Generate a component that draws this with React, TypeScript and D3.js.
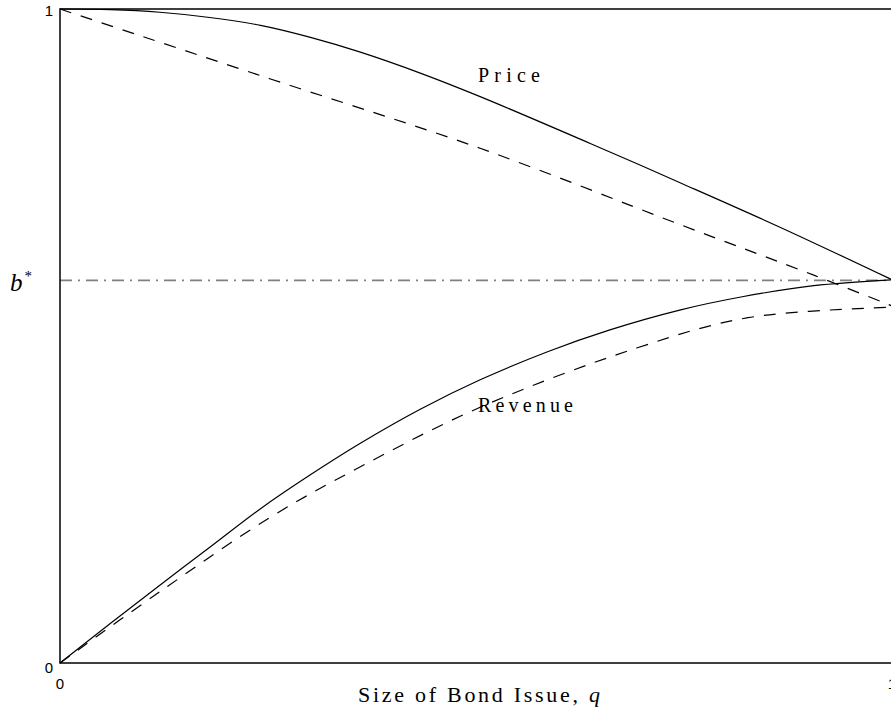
import { useMemo } from 'react';
import * as d3 from 'd3';

// sampled curves, x = size of bond issue (0..1), y = value (0..1)
const priceX = [0, 0.06, 0.12, 0.18, 0.241, 0.3, 0.361, 0.433, 0.505, 0.638, 0.746, 0.866, 1];
const priceSolid = [1, 0.999, 0.995, 0.987, 0.975, 0.957, 0.934, 0.902, 0.866, 0.794, 0.734, 0.666, 0.586];

const priceDashX = [0, 0.253, 0.505, 0.746, 0.906, 1];
const priceDashed = [1, 0.893, 0.787, 0.67, 0.593, 0.546];

const revX = [0, 0.06, 0.12, 0.18, 0.241, 0.3, 0.361, 0.433, 0.505, 0.586, 0.66, 0.746, 0.82, 0.906, 1];
const revenueSolid = [0, 0.06, 0.119, 0.177, 0.236, 0.287, 0.336, 0.388, 0.433, 0.476, 0.509, 0.54, 0.56, 0.577, 0.586];

const revDashX = [0, 0.12, 0.253, 0.361, 0.505, 0.694, 0.827, 1];
const revenueDashed = [0, 0.109, 0.223, 0.3, 0.391, 0.482, 0.528, 0.544];

const bStar = 0.585;

const xTicks = [0, 1];
const yTicks = [0, 1];

const W = 891;
const H = 715;
const margin = { left: 60, top: 9, right: -1, bottom: 52 };

export default function App() {
	const x = d3.scaleLinear().domain([0, 1]).range([margin.left, W - margin.right]);
	const y = d3.scaleLinear().domain([0, 1]).range([H - margin.bottom, margin.top]);

	const line = d3
		.line<[number, number]>()
		.x((d) => x(d[0]))
		.y((d) => y(d[1]))
		.curve(d3.curveCatmullRom.alpha(0.5));

	const curves = useMemo(
		() => [
			{ xs: priceX, ys: priceSolid, dash: null },
			{ xs: priceDashX, ys: priceDashed, dash: '12,10' },
			{ xs: revX, ys: revenueSolid, dash: null },
			{ xs: revDashX, ys: revenueDashed, dash: '12,10' },
		],
		[]
	);

	const serif = "'Liberation Serif', 'DejaVu Serif', serif";
	const sans = "'Liberation Sans', Arial, sans-serif";

	return (
		<svg
			width={W}
			height={H}
			style={{ position: 'absolute', left: 0, top: 0, background: '#fff' }}>
			{/* b* reference line */}
			<line
				x1={x(0)}
				x2={x(1)}
				y1={y(bStar)}
				y2={y(bStar)}
				stroke='#808080'
				strokeWidth={1.8}
				strokeDasharray='12,6,2,6'
			/>

			{curves.map((c, i) => (
				<path
					key={i}
					d={line(c.xs.map((v, j) => [v, c.ys[j]] as [number, number])) ?? ''}
					fill='none'
					stroke='#000'
					strokeWidth={1.2}
					strokeDasharray={c.dash ?? undefined}
				/>
			))}

			{/* frame */}
			<rect
				x={x(0)}
				y={y(1)}
				width={x(1) - x(0)}
				height={y(0) - y(1)}
				fill='none'
				stroke='#000'
				strokeWidth={1.5}
			/>

			{/* ticks */}
			{yTicks.map((t) => (
				<text
					key={'y' + t}
					x={x(0) - 7}
					y={y(t) + (t === 1 ? 7 : 10)}
					textAnchor='end'
					fontFamily={sans}
					fontSize={15}>
					{t}
				</text>
			))}
			{xTicks.map((t) => (
				<text
					key={'x' + t}
					x={x(t)}
					y={y(0) + 26}
					textAnchor='middle'
					fontFamily={sans}
					fontSize={15}>
					{t}
				</text>
			))}

			{/* labels */}
			<text x={478} y={82} fontFamily={serif} fontSize={20} textLength={62} lengthAdjust='spacing'>
				Price
			</text>
			<text x={478} y={412} fontFamily={serif} fontSize={20} textLength={95} lengthAdjust='spacing'>
				Revenue
			</text>
			<text x={358} y={702} fontFamily={serif} fontSize={22} textLength={242} lengthAdjust='spacing'>
				Size of Bond Issue, <tspan fontStyle='italic'>q</tspan>
			</text>
			<text x={10} y={291} fontFamily={serif} fontSize={25} fontStyle='italic'>
				b
				<tspan fontStyle='normal' fontSize={15} dy={-10} dx={2}>
					*
				</tspan>
			</text>
		</svg>
	);
}
